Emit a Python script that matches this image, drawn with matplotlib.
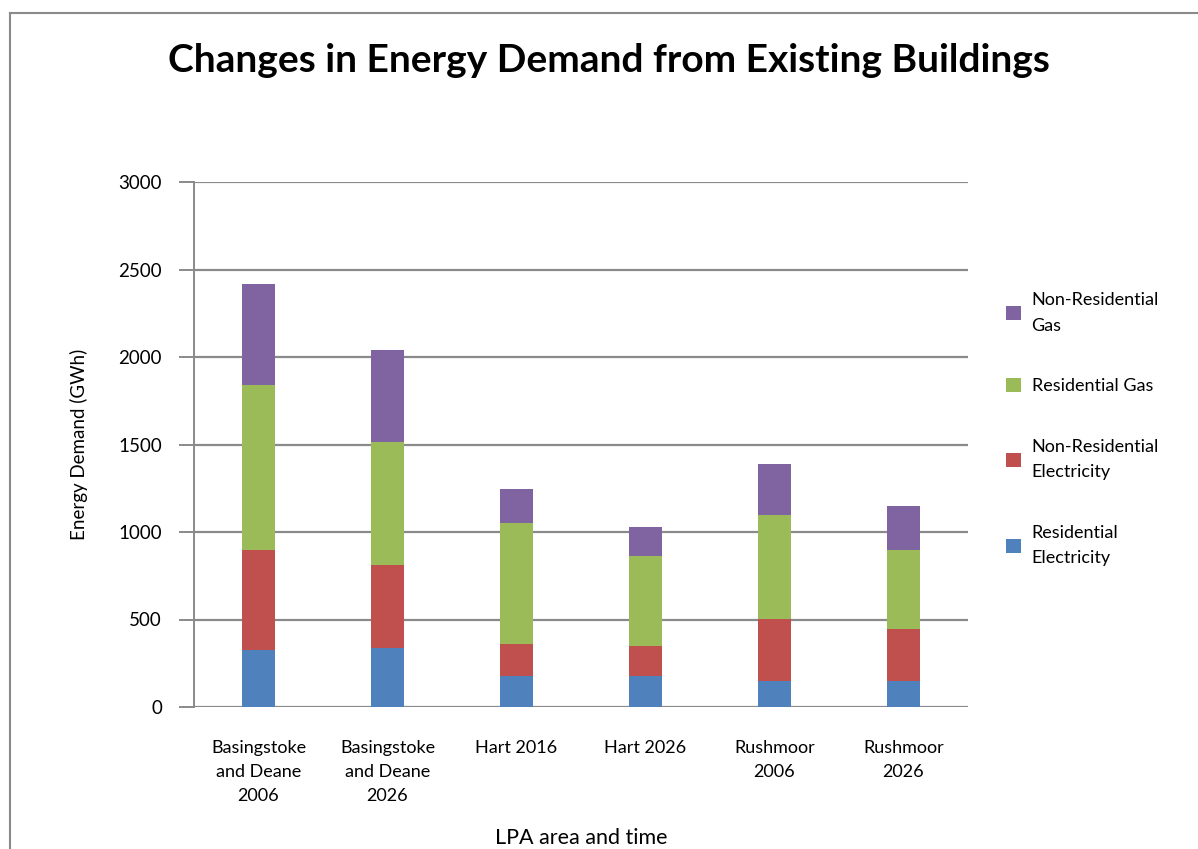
import matplotlib.pyplot as plt
from matplotlib.lines import Line2D
from matplotlib.patches import Patch
import numpy as np

plt.rcParams['font.family'] = ['Lato', 'DejaVu Sans']

# categories and stacked series (GWh)
areas = ['Basingstoke\nand Deane\n2006', 'Basingstoke\nand Deane\n2026', 'Hart 2016',
         'Hart 2026', 'Rushmoor\n2006', 'Rushmoor\n2026']
res_elec = [325, 340, 180, 180, 147, 147]
nonres_elec = [573, 474, 181, 169, 354, 298]
res_gas = [941, 700, 691, 514, 597, 452]
nonres_gas = [581, 525, 192, 168, 289, 254]

series = [
    ('Residential\nElectricity', res_elec, '#4F81BD'),
    ('Non-Residential\nElectricity', nonres_elec, '#C0504D'),
    ('Residential Gas', res_gas, '#9BBB59'),
    ('Non-Residential\nGas', nonres_gas, '#8064A2'),
]

W, H = 1198, 849
fig = plt.figure(figsize=(W / 100, H / 100), dpi=100)
ax = fig.add_axes([194 / W, 1 - 707 / H, (968 - 194) / W, (707 - 182) / H])

x = np.arange(len(areas))
bottom = np.zeros(len(areas))
for name, vals, col in series:
    ax.bar(x, vals, width=0.25, bottom=bottom, color=col, zorder=3)
    bottom += np.array(vals)

ax.set_xlim(-0.5, len(areas) - 0.5)
ax.set_ylim(0, 3000)
ax.set_yticks(range(0, 3001, 500))
ax.yaxis.grid(True, color='#8a8a8a', linewidth=1.6, zorder=0)
for s in ['top', 'right', 'bottom']:
    ax.spines[s].set_visible(False)
ax.spines['left'].set_color('#8a8a8a')
ax.spines['left'].set_linewidth(1.4)
ax.tick_params(axis='y', length=11, width=1.4, color='#8a8a8a', labelsize=13.5, pad=12)
ax.tick_params(axis='x', length=0, labelsize=13, pad=24)
ax.set_xticks(x)
ax.set_xticklabels(areas, linespacing=1.6)

ax.set_ylabel('Energy Demand (GWh)', fontsize=13.5, labelpad=22)
ax.set_xlabel('LPA area and time', fontsize=15.5, va='center')
ax.xaxis.set_label_coords(0.5, (707 - 838) / 525)

fig.text(609 / W, 1 - 60 / H, 'Changes in Energy Demand from Existing Buildings',
         ha='center', va='center', fontsize=28, fontweight='bold')

# legend, top entry first
handles = [Patch(facecolor=c, label=n) for n, v, c in reversed(series)]
leg = fig.legend(handles=handles, loc='upper left', bbox_to_anchor=(990 / W, 1 - 276 / H),
                 frameon=False, fontsize=13, handlelength=0.8, handleheight=0.8,
                 handletextpad=0.6, labelspacing=2.45)
for t in leg.get_texts():
    t.set_linespacing(1.75)

# chart frame
fig.add_artist(Line2D([9.5 / W, 9.5 / W], [0, 1 - 13 / H], color='#8a8a8a', lw=1.5))
fig.add_artist(Line2D([9.5 / W, 1], [1 - 13 / H, 1 - 13 / H], color='#8a8a8a', lw=1.5))

fig.savefig('out.png', dpi=100)
